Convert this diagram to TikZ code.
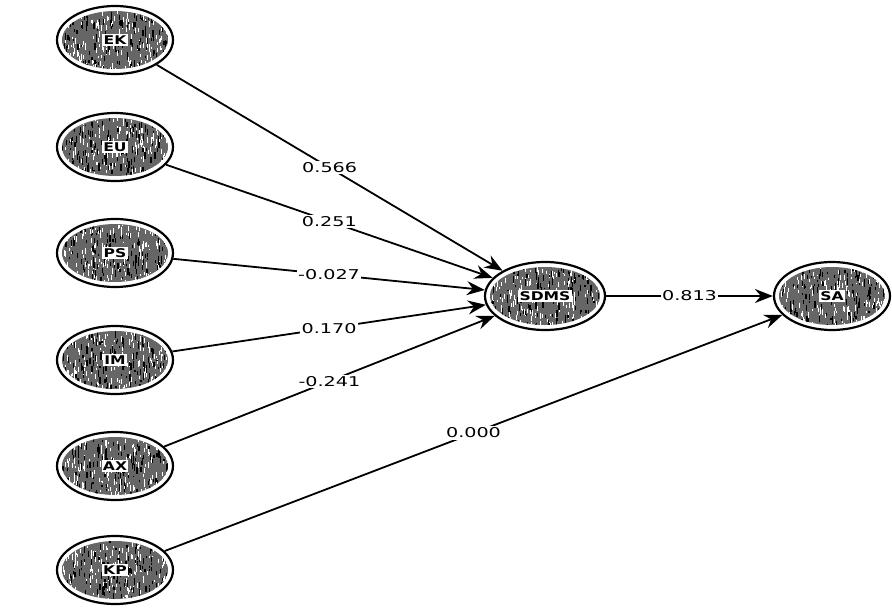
\documentclass[tikz,border=0pt]{standalone}
\usepackage{graphicx}
\usepackage{fontspec}
\setsansfont{DejaVu Sans}
\usetikzlibrary{arrows.meta,shapes.geometric}

\pgfdeclarelayer{background}
\pgfsetlayers{background,main}

% wide sans text used for coefficients and construct names
\newcommand{\widetext}[1]{\scalebox{1.42}[1]{#1}}
\newcommand{\tag}[1]{{\setlength{\fboxsep}{1.4pt}\colorbox{white}{\scalebox{1.3}[1]{\bfseries #1}}}}

% grainy grey interior of a latent-variable ellipse: node, x radius, y radius
\newcommand{\grainfill}[3]{%
  \begin{scope}[shift={(#1.center)}]
    \fill[white] (0,0) ellipse [x radius=#2+4, y radius=#3+4];
    \begin{scope}
      \clip (0,0) ellipse [x radius=#2, y radius=#3];
      \fill[black!60] (0,0) ellipse [x radius=#2, y radius=#3];
      \foreach \k in {1,...,170}{
        \pgfmathsetmacro\px{rand*#2}
        \pgfmathsetmacro\py{rand*#3}
        \pgfmathsetmacro\pl{1.5+5*rnd}
        \draw[white, line width=0.9pt] (\px,\py) -- ++(0,\pl);
      }
      \foreach \k in {1,...,140}{
        \pgfmathsetmacro\px{rand*#2}
        \pgfmathsetmacro\py{rand*#3}
        \pgfmathsetmacro\pl{1.5+6*rnd}
        \draw[black, line width=1.2pt] (\px,\py) -- ++(0,\pl);
      }
    \end{scope}
  \end{scope}}

\tikzset{
  latent/.style={ellipse, draw=black, line width=2.2pt,
    minimum width=116pt, minimum height=68pt, inner sep=0pt,
    font=\sffamily\fontsize{12}{12}\selectfont},
  latentwide/.style={latent, minimum width=120pt},
  link/.style={draw=black, line width=1.8pt,
    -{Stealth[length=18pt, width=14pt, inset=6pt]}},
  coef/.style={fill=white, inner sep=1.5pt,
    font=\sffamily\fontsize{13.5}{13.5}\selectfont},
}

\begin{document}
\begin{tikzpicture}[x=1pt, y=-1pt]
  \pgfmathsetseed{4127}
  \useasboundingbox (0,0) rectangle (892,608);

  % exogenous constructs
  \node[latent] (EK) at (115,40)  {\tag{EK}};
  \node[latent] (EU) at (115,147) {\tag{EU}};
  \node[latent] (PS) at (115,253) {\tag{PS}};
  \node[latent] (IM) at (115,360) {\tag{IM}};
  \node[latent] (AX) at (115,466) {\tag{AX}};
  \node[latent] (KP) at (115,570) {\tag{KP}};

  % mediator and outcome
  \node[latentwide] (SDMS) at (545,296) {\tag{SDMS}};
  \node[latent] (SA) at (832,296) {\tag{SA}};

  % textured interiors behind the outlines
  \begin{pgfonlayer}{background}
    \foreach \n in {EK,EU,PS,IM,AX,KP,SA}{\grainfill{\n}{53}{29}}
    \grainfill{SDMS}{55}{29}
  \end{pgfonlayer}

  % path coefficients
  \draw[link] (EK) -- node[coef] {\widetext{0.566}} (SDMS);
  \draw[link] (EU) -- node[coef] {\widetext{0.251}} (SDMS);
  \draw[link] (PS) -- node[coef] {\widetext{-0.027}} (SDMS);
  \draw[link] (IM) -- node[coef] {\widetext{0.170}} (SDMS);
  \draw[link] (AX) -- node[coef] {\widetext{-0.241}} (SDMS);
  \draw[link] (SDMS) -- node[coef] {\widetext{0.813}} (SA);
  \draw[link] (KP) -- node[coef] {\widetext{0.000}} (SA);
\end{tikzpicture}
\end{document}
